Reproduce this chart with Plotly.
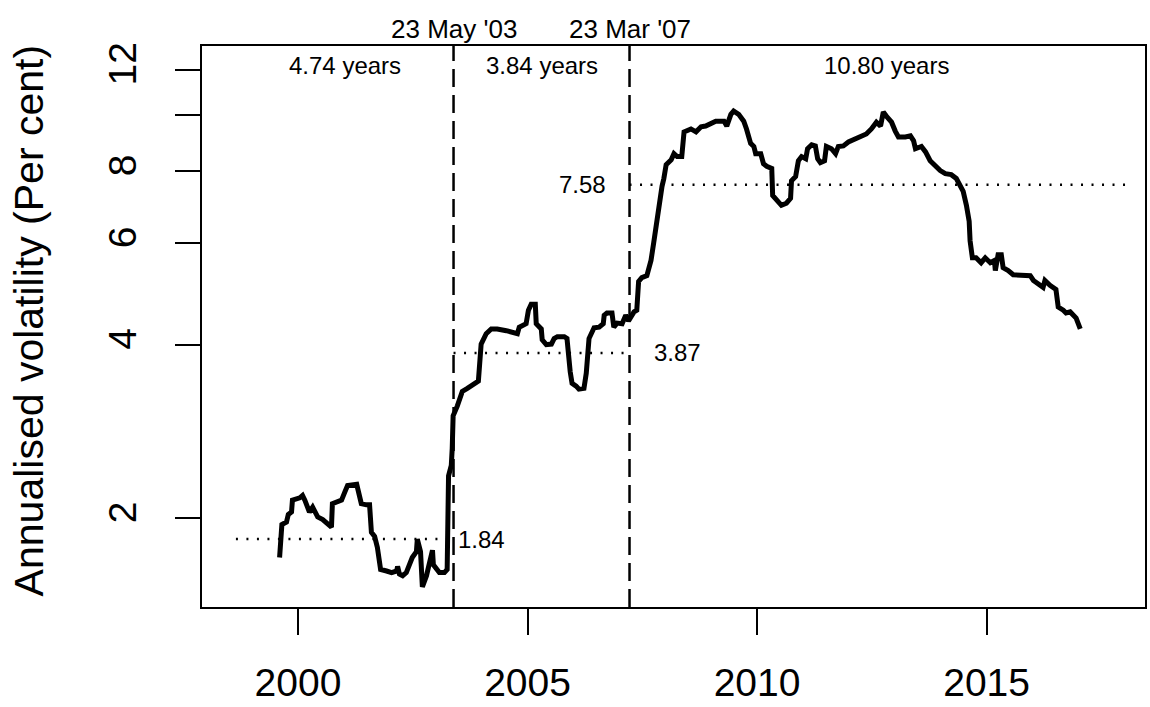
import math
import plotly.graph_objects as go

# ---- data (decimal years, annualised volatility in per cent) ----
dates = [1999.60, 1999.65, 1999.75, 1999.79, 1999.86, 1999.88, 2000.04, 2000.10, 2000.15, 2000.21,
         2000.25, 2000.32, 2000.36, 2000.43, 2000.54, 2000.69, 2000.73, 2000.75, 2000.84, 2000.95,
         2001.02, 2001.08, 2001.28, 2001.32, 2001.38, 2001.49, 2001.56, 2001.60, 2001.67, 2001.73,
         2001.80, 2001.93, 2002.04, 2002.15, 2002.17, 2002.21, 2002.28, 2002.36, 2002.43, 2002.49,
         2002.58, 2002.60, 2002.67, 2002.69, 2002.71, 2002.80, 2002.86, 2002.93, 2002.95, 2003.02,
         2003.08, 2003.19, 2003.25, 2003.28, 2003.34, 2003.36, 2003.38, 2003.47, 2003.52, 2003.58,
         2003.69, 2003.80, 2003.93, 2003.99, 2004.10, 2004.21, 2004.34, 2004.54, 2004.67, 2004.78,
         2004.82, 2004.97, 2005.02, 2005.08, 2005.17, 2005.19, 2005.30, 2005.32, 2005.41, 2005.52,
         2005.58, 2005.65, 2005.80, 2005.86, 2005.93, 2005.97, 2006.06, 2006.12, 2006.23, 2006.28,
         2006.34, 2006.45, 2006.56, 2006.65, 2006.67, 2006.73, 2006.84, 2006.88, 2006.95, 2007.06,
         2007.14, 2007.20, 2007.32, 2007.38, 2007.42, 2007.49, 2007.60, 2007.65, 2007.69, 2007.75,
         2007.80, 2007.86, 2007.93, 2007.97, 2008.02, 2008.13, 2008.19, 2008.26, 2008.36, 2008.41,
         2008.56, 2008.67, 2008.78, 2008.88, 2009.02, 2009.10, 2009.28, 2009.34, 2009.43, 2009.49,
         2009.60, 2009.71, 2009.77, 2009.86, 2009.93, 2009.97, 2010.08, 2010.14, 2010.21, 2010.32,
         2010.34, 2010.43, 2010.53, 2010.64, 2010.73, 2010.75, 2010.84, 2010.90, 2010.97, 2011.06,
         2011.10, 2011.19, 2011.27, 2011.32, 2011.38, 2011.47, 2011.51, 2011.62, 2011.71, 2011.77,
         2011.88, 2011.99, 2012.14, 2012.27, 2012.38, 2012.49, 2012.60, 2012.69, 2012.75, 2012.82,
         2012.93, 2013.01, 2013.08, 2013.23, 2013.34, 2013.41, 2013.45, 2013.58, 2013.67, 2013.77,
         2013.88, 2013.99, 2014.10, 2014.23, 2014.34, 2014.43, 2014.49, 2014.56, 2014.62, 2014.64,
         2014.69, 2014.77, 2014.88, 2014.97, 2015.08, 2015.17, 2015.19, 2015.25, 2015.32, 2015.36,
         2015.47, 2015.58, 2015.84, 2015.95, 2016.02, 2016.12, 2016.23, 2016.27, 2016.38, 2016.51,
         2016.56, 2016.67, 2016.73, 2016.82, 2016.88, 2016.95, 2017.04]
vol = [1.71, 1.95, 1.97, 2.03, 2.05, 2.15, 2.17, 2.19, 2.15, 2.09,
       2.05, 2.09, 2.05, 2.01, 1.99, 1.95, 1.93, 2.12, 2.13, 2.15,
       2.22, 2.28, 2.29, 2.22, 2.12, 2.11, 2.11, 1.89, 1.86, 1.78,
       1.63, 1.62, 1.61, 1.62, 1.65, 1.60, 1.59, 1.61, 1.66, 1.71,
       1.75, 1.84, 1.75, 1.59, 1.52, 1.59, 1.68, 1.76, 1.66, 1.63,
       1.61, 1.61, 1.63, 2.37, 2.47, 2.64, 3.01, 3.13, 3.22, 3.32,
       3.36, 3.41, 3.46, 4.01, 4.18, 4.26, 4.26, 4.23, 4.21, 4.18,
       4.29, 4.35, 4.59, 4.70, 4.70, 4.35, 4.26, 4.08, 4.00, 4.01,
       4.10, 4.13, 4.13, 4.10, 3.59, 3.43, 3.39, 3.35, 3.36, 3.57,
       4.10, 4.28, 4.29, 4.35, 4.50, 4.54, 4.54, 4.29, 4.36, 4.35,
       4.50, 4.40, 4.56, 4.59, 5.15, 5.23, 5.27, 5.44, 5.60, 6.02,
       6.45, 6.82, 7.53, 7.77, 8.21, 8.37, 8.58, 8.48, 8.48, 9.36,
       9.47, 9.36, 9.55, 9.58, 9.73, 9.77, 9.77, 9.58, 10.04, 10.17,
       10.04, 9.77, 9.47, 8.94, 8.83, 8.58, 8.58, 8.24, 8.16, 8.09,
       7.26, 7.12, 6.98, 7.04, 7.18, 7.70, 7.83, 8.34, 8.48, 8.41,
       8.75, 8.89, 8.85, 8.41, 8.28, 8.34, 8.83, 8.75, 8.58, 8.83,
       8.85, 8.99, 9.10, 9.17, 9.28, 9.47, 9.73, 9.58, 10.13, 9.96,
       9.73, 9.39, 9.17, 9.17, 9.21, 9.03, 8.75, 8.83, 8.64, 8.34,
       8.16, 8.02, 7.92, 7.89, 7.77, 7.53, 7.38, 6.98, 6.55, 6.06,
       5.66, 5.66, 5.55, 5.66, 5.55, 5.60, 5.38, 5.73, 5.73, 5.44,
       5.38, 5.29, 5.29, 5.27, 5.17, 5.09, 5.03, 5.17, 5.07, 4.99,
       4.65, 4.59, 4.54, 4.56, 4.50, 4.45, 4.26]

break_dates = [2003.389, 2007.222]
break_labels = ["23 May '03", "23 Mar '07"]
seg_start = [1998.649, 2003.389, 2007.222]
seg_end = [2003.389, 2007.222, 2018.022]
seg_mean = [1.84, 3.87, 7.58]
seg_years = [4.74, 3.84, 10.80]
seg_label_x = [2001.02, 2005.31, 2012.83]

x_ticks = [2000, 2005, 2010, 2015]
y_ticks = [2, 4, 6, 8, 10, 12]
y_ticktext = ["2", "4", "6", "8", "", "12"]

FONT = "Liberation Sans, Arial, Helvetica, sans-serif"

fig = go.Figure()

# period means (dotted)
for s, e, m in zip(seg_start, seg_end, seg_mean):
    fig.add_trace(go.Scatter(x=[s, e], y=[m, m], mode="lines",
                             line=dict(color="black", width=2.5, dash="2px,8.5px"),
                             hoverinfo="skip", showlegend=False))

# volatility line
fig.add_trace(go.Scatter(x=dates, y=vol, mode="lines",
                         line=dict(color="black", width=5),
                         showlegend=False))

# breaks
for d, lab in zip(break_dates, break_labels):
    fig.add_shape(type="line", xref="x", yref="paper", x0=d, x1=d, y0=0, y1=1,
                  line=dict(color="black", width=2.5, dash="18px,8px"))
    fig.add_annotation(x=d, xref="x", y=1.03, yref="paper", text=lab, showarrow=False,
                       font=dict(size=26, family=FONT, color="black"),
                       xanchor="center", yanchor="middle")

# period lengths
for lx, yrs in zip(seg_label_x, seg_years):
    fig.add_annotation(x=lx, xref="x", y=0.966, yref="paper",
                       text=f"{yrs:.2f} years", showarrow=False,
                       font=dict(size=24, family=FONT, color="black"),
                       xanchor="center", yanchor="middle")

# mean labels
mean_pos = [(seg_end[0], "left", 2), (seg_end[1], "left", 22), (seg_start[2], "right", -22)]
for (xp, anc, shift), m in zip(mean_pos, seg_mean):
    fig.add_annotation(x=xp, xref="x", y=math.log10(m), yref="y", text=f"{m:.2f}",
                       showarrow=False, xanchor=anc, xshift=shift, yanchor="middle",
                       font=dict(size=24, family=FONT, color="black"))

# y-axis title
fig.add_annotation(x=-0.184, xref="paper", y=0.51, yref="paper",
                   text="Annualised volatility (Per cent)", textangle=-90,
                   showarrow=False, xanchor="center", yanchor="middle",
                   font=dict(size=41, family=FONT, color="black"))

fig.update_layout(
    width=1150, height=707, autosize=False,
    margin=dict(l=202, r=3, t=46, b=94),
    paper_bgcolor="white", plot_bgcolor="white",
    font=dict(family=FONT, color="black"),
    showlegend=False,
)
fig.update_xaxes(range=[1997.91, 2018.45], tickvals=x_ticks, ticktext=[str(v) for v in x_ticks],
                 ticks="outside", ticklen=26, tickwidth=2, tickcolor="black",
                 showline=True, linecolor="black", linewidth=2, mirror=True,
                 showgrid=False, zeroline=False, ticklabelstandoff=14,
                 tickfont=dict(size=39, family=FONT, color="black"))
fig.update_yaxes(type="log", range=[math.log10(1.403), math.log10(13.19)],
                 tickvals=y_ticks, ticktext=y_ticktext, tickangle=-90,
                 ticks="outside", ticklen=25, tickwidth=2, tickcolor="black",
                 showline=True, linecolor="black", linewidth=2, mirror=True,
                 showgrid=False, zeroline=False, ticklabelstandoff=23,
                 tickfont=dict(size=39, family=FONT, color="black"))

fig.write_html(
    "out.html",
    config={"responsive": False, "displayModeBar": False},
    post_script=(
        "document.body.style.margin='0';"
        "document.body.style.overflow='hidden';"
        "document.documentElement.style.overflow='hidden';"
    ),
)
